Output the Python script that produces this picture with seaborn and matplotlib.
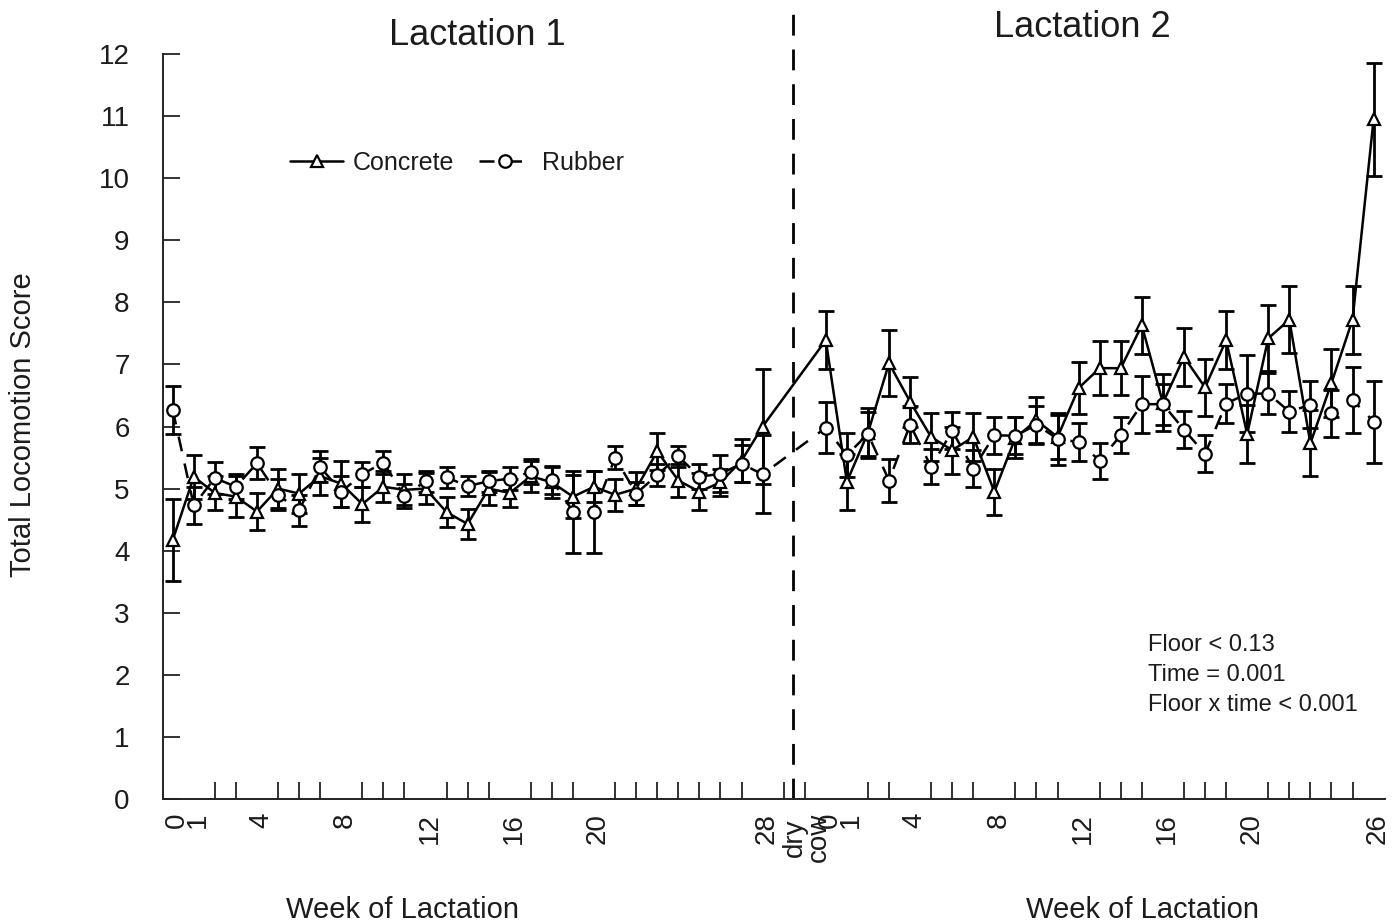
import matplotlib
matplotlib.use("Agg")
import matplotlib.pyplot as plt
import matplotlib.transforms as mtransforms
from matplotlib.lines import Line2D
import numpy as np
import pandas as pd
import seaborn as sns

# ---------------- data ----------------
lact1_weeks = list(range(0, 29))
lact2_weeks = list(range(0, 27))

concrete_l1 = [4.17, 5.19, 4.93, 4.87, 4.63, 5.00, 4.92, 5.20, 5.08, 4.75,
               5.03, 4.98, 5.00, 4.62, 4.43, 5.00, 4.93, 5.20, 5.10, 4.87,
               5.03, 4.90, 5.00, 5.60, 5.13, 4.95, 5.10, 5.45, 6.00]
concrete_l1_se = [0.66, 0.35, 0.28, 0.33, 0.30, 0.32, 0.31, 0.30, 0.37, 0.28,
                  0.25, 0.25, 0.25, 0.24, 0.24, 0.27, 0.22, 0.25, 0.25, 0.35,
                  0.25, 0.26, 0.27, 0.30, 0.27, 0.30, 0.22, 0.35, 0.93]
rubber_l1 = [6.27, 4.73, 5.17, 5.03, 5.41, 4.90, 4.65, 5.35, 4.95, 5.23,
             5.42, 4.88, 5.12, 5.18, 5.04, 5.12, 5.16, 5.27, 5.14, 4.63,
             4.62, 5.50, 4.92, 5.22, 5.52, 5.19, 5.24, 5.40, 5.23]
rubber_l1_se = [0.39, 0.30, 0.26, 0.20, 0.26, 0.25, 0.25, 0.25, 0.25, 0.20,
                0.18, 0.20, 0.17, 0.17, 0.16, 0.17, 0.18, 0.20, 0.22, 0.66,
                0.66, 0.18, 0.18, 0.18, 0.17, 0.20, 0.30, 0.30, 0.63]

concrete_l2 = [7.39, 5.11, 5.90, 7.02, 6.40, 5.83, 5.62, 5.83, 4.95, 5.82,
               6.10, 5.83, 6.62, 6.94, 6.94, 7.63, 6.38, 7.12, 6.63, 7.39,
               5.88, 7.42, 7.72, 5.73, 6.70, 7.72, 10.95]
concrete_l2_se = [0.47, 0.45, 0.40, 0.53, 0.40, 0.38, 0.38, 0.38, 0.37, 0.33,
                  0.38, 0.36, 0.42, 0.43, 0.43, 0.46, 0.46, 0.47, 0.46, 0.47,
                  0.47, 0.53, 0.54, 0.53, 0.55, 0.55, 0.91]
rubber_l2 = [5.98, 5.54, 5.88, 5.13, 6.03, 5.35, 5.93, 5.32, 5.86, 5.85,
             6.03, 5.80, 5.75, 5.45, 5.86, 6.36, 6.36, 5.95, 5.56, 6.37,
             6.53, 6.53, 6.24, 6.35, 6.21, 6.43, 6.08]
rubber_l2_se = [0.41, 0.35, 0.35, 0.35, 0.30, 0.28, 0.30, 0.30, 0.30, 0.30,
                0.30, 0.42, 0.30, 0.29, 0.29, 0.46, 0.33, 0.30, 0.30, 0.32,
                0.62, 0.33, 0.33, 0.38, 0.38, 0.53, 0.66]

lact1_labels = ["0", "1", "4", "8", "12", "16", "20", "28"]
lact2_labels = ["0", "1", "4", "8", "12", "16", "20", "26"]
stats_lines = ["Floor < 0.13", "Time = 0.001", "Floor x time < 0.001"]

# layout of the continuous x axis: lactation 2 starts after a dry period
L2_OFFSET = 31
DRY_POS = 29.45

# ---------------- build table ----------------
pos_l1 = np.array(lact1_weeks, dtype=float)
pos_l2 = np.array(lact2_weeks, dtype=float) + L2_OFFSET
rows = []
for p, m, s in zip(np.r_[pos_l1, pos_l2], concrete_l1 + concrete_l2, concrete_l1_se + concrete_l2_se):
    rows.append(("Concrete", p, m, s))
for p, m, s in zip(np.r_[pos_l1, pos_l2], rubber_l1 + rubber_l2, rubber_l1_se + rubber_l2_se):
    rows.append(("Rubber", p, m, s))
df = pd.DataFrame(rows, columns=["floor", "pos", "score", "se"])

# ---------------- style ----------------
sns.set_theme(style="white")
plt.rcParams["font.family"] = ["Liberation Sans", "DejaVu Sans"]
TXT = "#1c1c1c"

fig = plt.figure(figsize=(13.92, 9.23), dpi=100)
ax = fig.add_axes([0.1171, 0.1343, 0.878, 0.8072])

# error bars
for fl in ["Concrete", "Rubber"]:
    d = df[df.floor == fl]
    ax.errorbar(d.pos, d.score, yerr=d.se, fmt="none", ecolor="black",
                elinewidth=2.0, capsize=5.5, capthick=2.0, zorder=2)

sns.lineplot(data=df, x="pos", y="score", hue="floor", style="floor",
             palette={"Concrete": "black", "Rubber": "black"},
             markers={"Concrete": "^", "Rubber": "o"},
             dashes={"Concrete": "", "Rubber": (6, 5)},
             markersize=9, markerfacecolor="white", markeredgecolor="black",
             markeredgewidth=1.6, linewidth=1.8, legend=False,
             errorbar=None, sort=False, ax=ax, zorder=3)

# dry-period divider
ax.axvline(DRY_POS, ymin=0, ymax=1.056, color="black", lw=2,
           dashes=(7.5, 5), clip_on=False, zorder=1)

# axes limits / spines
ax.set_xlim(-0.46, 57.55)
ax.set_ylim(0, 12)
for sp in ["top", "right"]:
    ax.spines[sp].set_visible(False)
for sp in ["left", "bottom"]:
    ax.spines[sp].set_color("#222222")
    ax.spines[sp].set_linewidth(1.4)

ax.set_yticks(range(0, 13))
ax.set_yticklabels([str(v) for v in range(0, 13)])
ax.tick_params(axis="y", direction="in", length=12, width=1.3, color="#222222",
               pad=24, labelsize=20, labelcolor=TXT, left=True)

major_pos = [int(l) for l in lact1_labels] + [DRY_POS + 0.45] + [int(l) + L2_OFFSET for l in lact2_labels]
major_lab = lact1_labels + ["dry\ncow"] + lact2_labels
ax.set_xticks(major_pos)
ax.set_xticklabels(major_lab, rotation=90, fontsize=20, color=TXT)
ax.set_xticks(list(range(0, 58)), minor=True)
ax.tick_params(axis="x", which="major", length=0, pad=10, bottom=True)
ax.tick_params(axis="x", which="minor", direction="in", length=12, width=1.3,
               color="#222222", bottom=True)
shift = mtransforms.ScaledTranslation(4 / 100, 0, fig.dpi_scale_trans)
for lab in ax.get_xticklabels():
    lab.set_transform(lab.get_transform() + shift)
    lab.set_linespacing(0.9)

ax.set_xlabel("")
ax.set_ylabel("Total Locomotion Score", fontsize=21, color=TXT)
ax.yaxis.set_label_coords(-0.103, 0.502)

# titles of the two lactations
ax.text(14.44, 12.3, "Lactation 1", ha="center", va="center", fontsize=26,
        color=TXT, clip_on=False)
ax.text(43.2, 12.42, "Lactation 2", ha="center", va="center", fontsize=26,
        color=TXT, clip_on=False)
ax.text(10.9, -1.79, "Week of Lactation", ha="center", va="center",
        fontsize=21, color=TXT, clip_on=False)
ax.text(46.05, -1.79, "Week of Lactation", ha="center", va="center",
        fontsize=21, color=TXT, clip_on=False)

# statistics note
for i, s in enumerate(stats_lines):
    ax.text(46.29, 2.48 - 0.484 * i, s, ha="left", va="center", fontsize=17,
            color=TXT)

# legend
handles = [
    Line2D([], [], color="black", marker="^", mfc="white", mec="black",
           ms=9, mew=1.6, lw=1.8),
    Line2D([], [], color="black", marker="o", mfc="white", mec="black",
           ms=9, mew=1.6, lw=1.8, dashes=(6, 5)),
]
ax.legend(handles, ["Concrete", "Rubber"], loc="center",
          bbox_to_anchor=(0.2406, 0.8537), ncol=2, frameon=False,
          fontsize=18, handlelength=2.1, handletextpad=0.4,
          columnspacing=1.0, labelcolor=TXT)

fig.savefig("out.png", dpi=100)
